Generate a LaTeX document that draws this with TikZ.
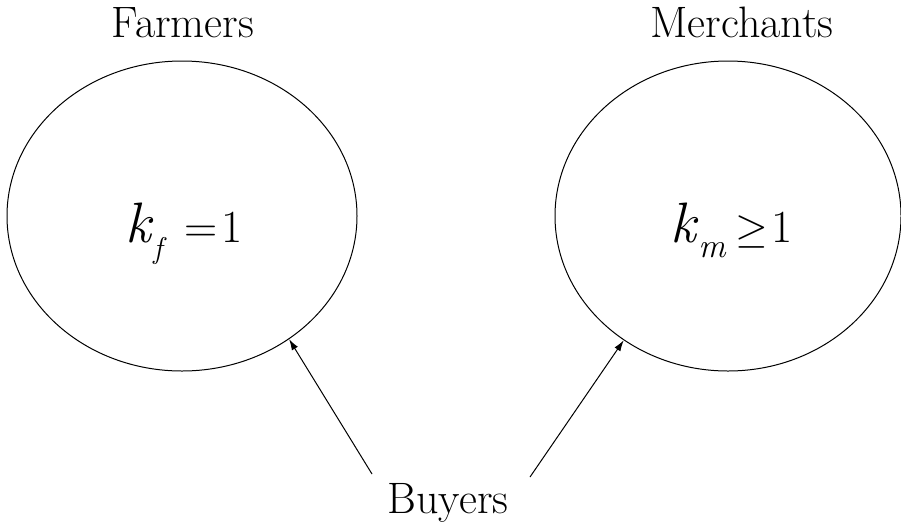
\documentclass[tikz,border=0pt]{standalone}
\usepackage{fontspec}
\usepackage{graphicx}
\usetikzlibrary{arrows.meta,shapes.geometric}
\tikzset{
  group/.style={draw, ellipse, line width=1pt, inner sep=0pt},
  lbl/.style={font=\fontsize{44}{50}\selectfont, inner sep=0pt, anchor=base},
  eq/.style={font=\fontsize{57}{60}\selectfont, inner sep=0pt, anchor=base west},
  arr/.style={line width=1pt, -{Latex[length=11pt,width=7pt]}}
}
\newcommand{\subsz}{\fontsize{30}{30}\selectfont}
\newcommand{\subszm}{\fontsize{34}{34}\selectfont}
\newcommand{\relsz}{\fontsize{46}{50}\selectfont}
\newcommand{\biggeq}{\scalebox{4.2}{\fontsize{10}{12}\selectfont$\geq$}}
\begin{document}
\begin{tikzpicture}[x=1pt,y=-1pt]
\useasboundingbox (0,0) rectangle (901,523);
\node[group, minimum width=350pt, minimum height=310pt] (f) at (182,216) {};
\node[group, minimum width=346pt, minimum height=310pt] (m) at (728,216) {};
\node[lbl] (ft) at (183,37) {Farmers};
\node[lbl] (mt) at (742,37) {Merchants};
\node[lbl] (bt) at (448,513) {Buyers};
\node[eq] (fe) at (125,242) {\textit{k}\raisebox{-16pt}{\subsz\textit{f}}\hspace{18pt}{\relsz=}\hspace{4pt}{\relsz 1}};
\node[eq] (me) at (670,242) {\textit{k}\raisebox{-15pt}{\subszm\textit{m}}\hspace{9pt}\biggeq\hspace{3pt}{\relsz 1}};
\coordinate (b1) at (372,474);
\coordinate (b2) at (530,477);
\draw[arr] (b1) -- (f.-49);
\draw[arr] (b2) -- (m.-130.4);
\end{tikzpicture}
\end{document}
